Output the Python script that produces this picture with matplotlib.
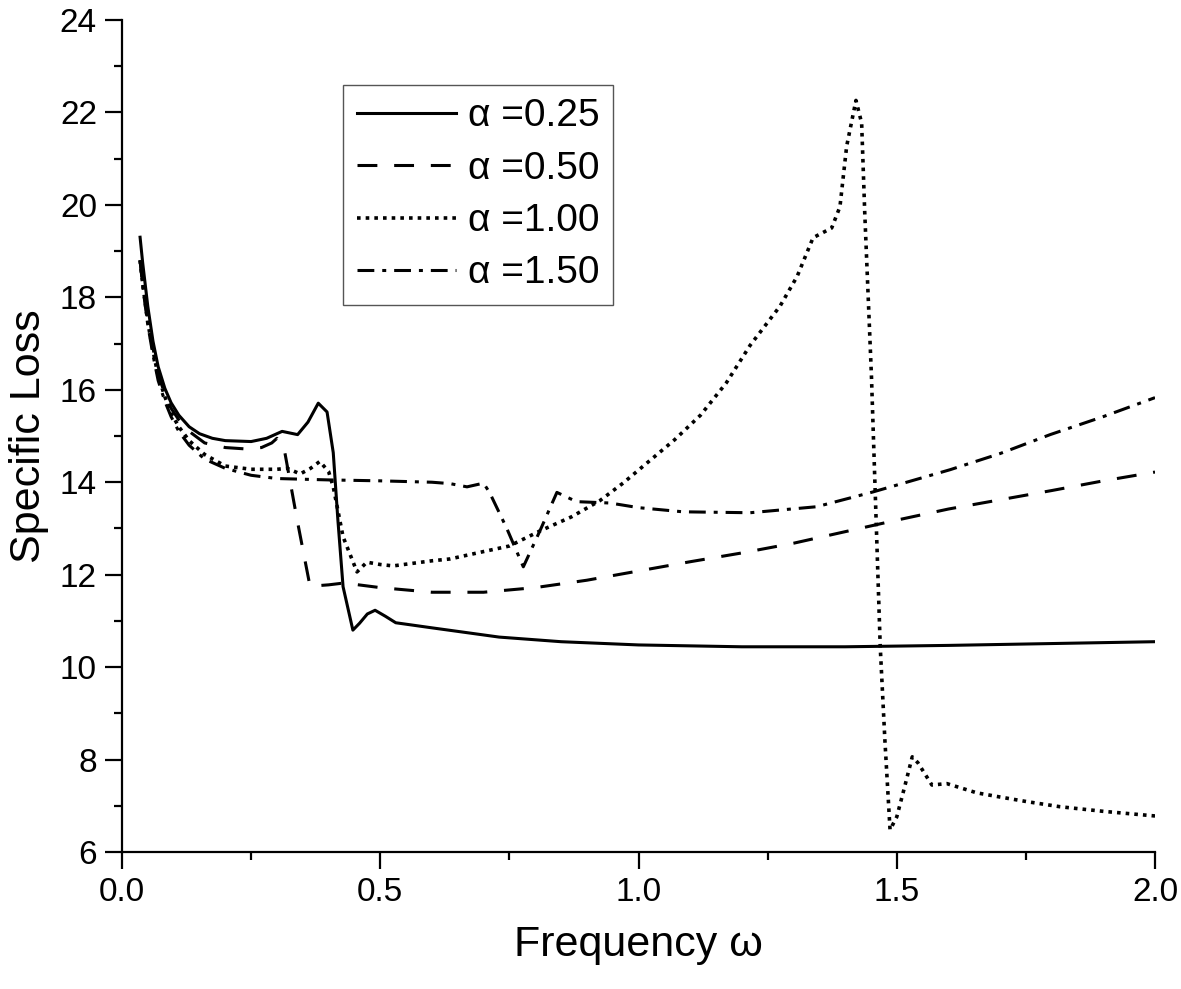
import matplotlib
matplotlib.use("Agg")
import matplotlib.pyplot as plt
from matplotlib.ticker import MultipleLocator

plt.rcParams['font.family'] = ['Liberation Sans', 'DejaVu Sans']

# alpha = 0.25 (solid)
x_a025 = [0.035, 0.04, 0.05, 0.06, 0.07, 0.083, 0.095, 0.11, 0.13, 0.15, 0.175, 0.2, 0.25, 0.28,
          0.31, 0.34, 0.36, 0.38, 0.397, 0.409, 0.418, 0.428, 0.447, 0.46, 0.475, 0.49, 0.51, 0.53,
          0.6, 0.73, 0.85, 1.0, 1.2, 1.4, 1.6, 1.8, 2.0]
y_a025 = [19.3, 18.75, 17.8, 17.05, 16.5, 16.03, 15.72, 15.45, 15.2, 15.05, 14.95, 14.9, 14.88, 14.95,
          15.1, 15.03, 15.3, 15.71, 15.52, 14.64, 13.18, 11.74, 10.8, 10.95, 11.15, 11.23, 11.1, 10.96,
          10.85, 10.65, 10.55, 10.48, 10.44, 10.44, 10.47, 10.51, 10.55]

# alpha = 0.50 (dashed)
x_a050 = [0.035, 0.04, 0.05, 0.06, 0.07, 0.083, 0.095, 0.11, 0.13, 0.16, 0.2, 0.24, 0.27, 0.29, 0.30,
          0.315, 0.339, 0.364, 0.4, 0.43, 0.5, 0.6, 0.7, 0.8, 0.9, 1.0, 1.1, 1.2, 1.3, 1.4, 1.5, 1.6,
          1.7, 1.8, 1.9, 2.0]
y_a050 = [18.8, 18.3, 17.5, 16.9, 16.35, 15.9, 15.6, 15.35, 15.1, 14.85, 14.75, 14.72, 14.75, 14.85,
          14.95, 14.66, 13.19, 11.75, 11.78, 11.82, 11.72, 11.62, 11.62, 11.72, 11.88, 12.08, 12.28,
          12.47, 12.68, 12.93, 13.18, 13.42, 13.62, 13.82, 14.03, 14.22]

# alpha = 1.00 (dotted)
x_a100 = [0.035, 0.04, 0.05, 0.06, 0.07, 0.083, 0.095, 0.11, 0.13, 0.16, 0.2, 0.25, 0.3, 0.32, 0.345,
          0.365, 0.383, 0.4, 0.409, 0.428, 0.455, 0.474, 0.5, 0.525, 0.6, 0.635, 0.7, 0.75, 0.81, 0.87,
          0.925, 0.97, 1.02, 1.07, 1.12, 1.17, 1.216, 1.274, 1.307, 1.338, 1.374, 1.39, 1.403, 1.421,
          1.432, 1.438, 1.451, 1.468, 1.477, 1.487, 1.50, 1.515, 1.53, 1.541, 1.568, 1.597, 1.655,
          1.70, 1.752, 1.816, 1.9, 2.0]
y_a100 = [18.8, 18.3, 17.45, 16.85, 16.3, 15.85, 15.5, 15.2, 14.9, 14.6, 14.35, 14.28, 14.28, 14.3,
          14.18, 14.3, 14.45, 14.23, 13.9, 12.82, 12.06, 12.27, 12.22, 12.19, 12.3, 12.34, 12.5, 12.62,
          12.95, 13.25, 13.6, 13.98, 14.45, 14.92, 15.45, 16.15, 16.96, 17.81, 18.45, 19.29, 19.5,
          19.96, 21.27, 22.26, 21.77, 19.83, 16.29, 10.44, 8.42, 6.48, 6.76, 7.4, 8.06, 7.93, 7.45,
          7.48, 7.28, 7.19, 7.09, 6.98, 6.88, 6.78]

# alpha = 1.50 (dash-dot)
x_a150 = [0.035, 0.04, 0.05, 0.06, 0.07, 0.083, 0.095, 0.11, 0.13, 0.16, 0.2, 0.25, 0.3, 0.4, 0.5, 0.6,
          0.635, 0.668, 0.70, 0.712, 0.745, 0.777, 0.81, 0.842, 0.88, 0.945, 1.0, 1.086, 1.216, 1.345,
          1.454, 1.603, 1.7, 1.797, 1.9, 2.0]
y_a150 = [18.8, 18.25, 17.4, 16.75, 16.2, 15.75, 15.42, 15.1, 14.8, 14.5, 14.3, 14.15, 14.08, 14.05,
          14.03, 14.0, 13.97, 13.9, 13.98, 13.77, 13.0, 12.17, 12.97, 13.78, 13.58, 13.55, 13.45, 13.36,
          13.34, 13.47, 13.79, 14.27, 14.62, 15.03, 15.42, 15.83]

labels = ['α =0.25', 'α =0.50', 'α =1.00', 'α =1.50']

fig = plt.figure(figsize=(11.81, 9.89), dpi=100)
ax = fig.add_axes([0.1033, 0.1385, 0.8747, 0.8413])

lw = 2.2
ax.plot(x_a025, y_a025, color='black', lw=lw, linestyle='-', label=labels[0])
ax.plot(x_a050, y_a050, color='black', lw=lw, linestyle=(0, (6.5, 5.5)), label=labels[1])
ax.plot(x_a100, y_a100, color='black', lw=2.6, linestyle=(0, (1, 1.4)), label=labels[2])
ax.plot(x_a150, y_a150, color='black', lw=lw, linestyle=(0, (5.5, 2.6, 1.3, 2.6)), label=labels[3])

ax.set_xlim(0, 2.0)
ax.set_ylim(6, 24)
ax.xaxis.set_major_locator(MultipleLocator(0.5))
ax.xaxis.set_minor_locator(MultipleLocator(0.25))
ax.yaxis.set_major_locator(MultipleLocator(2))
ax.yaxis.set_minor_locator(MultipleLocator(1))
ax.set_xticks([0.0, 0.5, 1.0, 1.5, 2.0], ['0.0', '0.5', '1.0', '1.5', '2.0'])

for s in ['top', 'right']:
    ax.spines[s].set_visible(False)
for s in ['left', 'bottom']:
    ax.spines[s].set_linewidth(1.6)

ax.tick_params(which='major', direction='out', length=12, width=1.6, labelsize=24, pad=6)
ax.tick_params(which='minor', direction='out', length=6, width=1.6)

ax.set_xlabel('Frequency ω', fontsize=31, labelpad=12)
ax.set_ylabel('Specific Loss', fontsize=31, labelpad=8)

leg = ax.legend(loc='upper left', bbox_to_anchor=(0.214, 0.922), borderaxespad=0,
                fontsize=28, handlelength=2.55, handletextpad=0.3, labelspacing=0.42,
                fancybox=False, framealpha=1, borderpad=0.35)
leg.get_frame().set_edgecolor('#555555')
leg.get_frame().set_linewidth(1.0)

fig.savefig('out.png', dpi=100)
